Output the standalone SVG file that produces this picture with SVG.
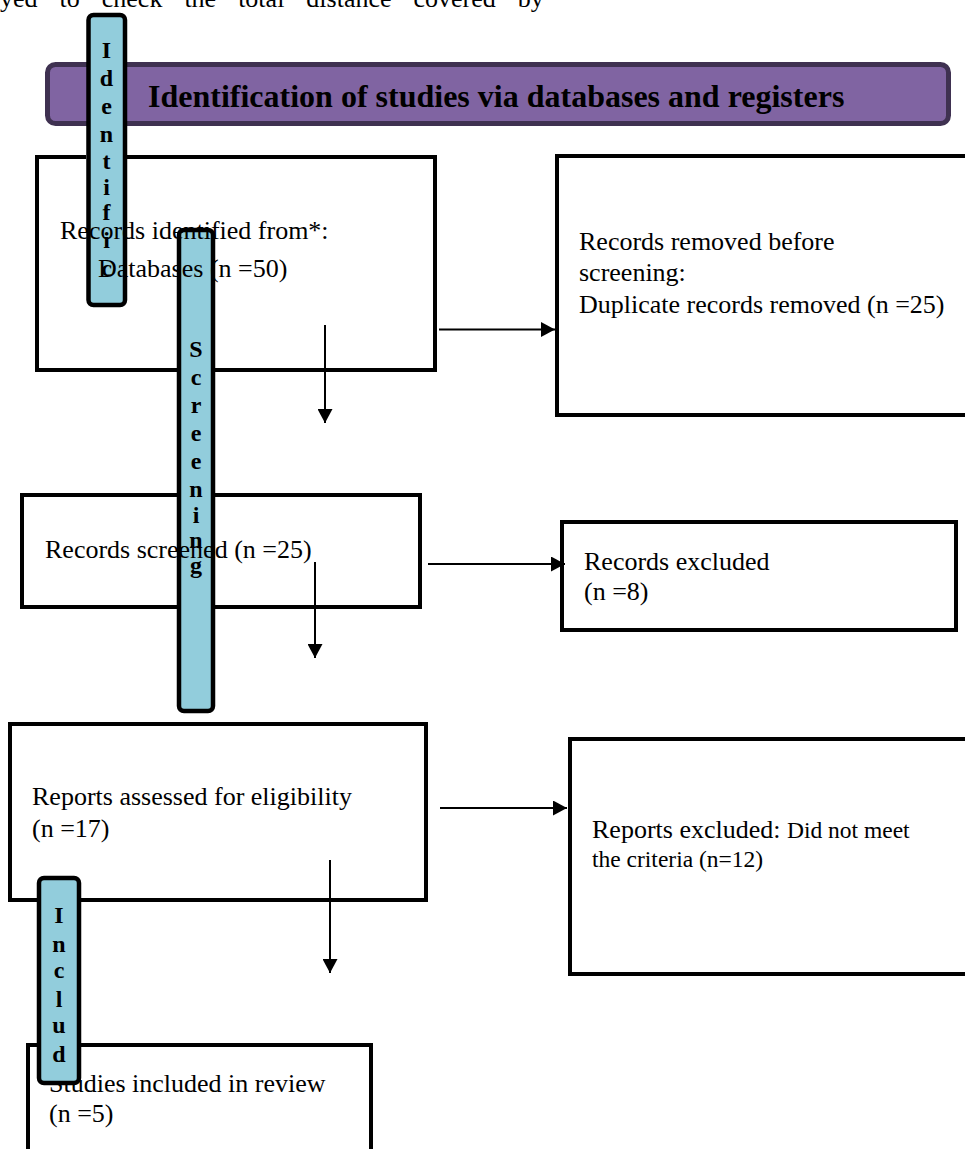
<svg xmlns="http://www.w3.org/2000/svg" width="965" height="1149" viewBox="0 0 965 1149">
<style>
.t{font-family:"Liberation Serif","Times New Roman",serif;font-size:26px;fill:#000}
.s{font-family:"Liberation Serif","Times New Roman",serif;font-size:23.5px;fill:#000}
.bl{font-family:"Liberation Serif","Times New Roman",serif;font-size:24px;font-weight:bold;fill:#000;text-anchor:middle}
.box{fill:none;stroke:#000;stroke-width:4;stroke-linejoin:miter}
.bar{fill:#92CDDC;stroke:#000;stroke-width:4.5}
.conn{stroke:#000;stroke-width:2;fill:none}
</style>
<defs>
<marker id="ah" markerUnits="userSpaceOnUse" markerWidth="14" markerHeight="15" refX="14" refY="7.5" orient="auto">
<path d="M0,0 L14,7.5 L0,15 Z" fill="#000"/>
</marker>
</defs>
<rect x="0" y="0" width="965" height="1149" fill="#fff"/>
<text class="t" x="0" y="7" word-spacing="15.5">yed to check the total distance covered by</text>

<g id="header">
<rect x="47.5" y="64.5" width="901" height="59" rx="8" fill="#8064A2" stroke="#3F3151" stroke-width="5"/>
<text x="148" y="107" font-family="'Liberation Serif','Times New Roman',serif" font-size="32" font-weight="bold" fill="#000">Identification of studies via databases and registers</text>
</g>

<g id="bar-identification">
<rect class="bar" x="88.5" y="15" width="36.5" height="290" rx="5"/>
<text class="bl" x="106.5" y="58">I</text>
<text class="bl" x="106.5" y="86">d</text>
<text class="bl" x="106.5" y="114">e</text>
<text class="bl" x="106.5" y="142">n</text>
<text class="bl" x="106.5" y="169">t</text>
<text class="bl" x="106.5" y="195">i</text>
<text class="bl" x="106.5" y="220">f</text>
<text class="bl" x="106.5" y="248">i</text>
<text class="bl" x="106.5" y="276">c</text>
</g>

<g id="bar-screening">
<rect class="bar" x="179" y="230" width="34" height="481" rx="5"/>
<text class="bl" x="196" y="357">S</text>
<text class="bl" x="196" y="385">c</text>
<text class="bl" x="196" y="413">r</text>
<text class="bl" x="196" y="441">e</text>
<text class="bl" x="196" y="469">e</text>
<text class="bl" x="196" y="497">n</text>
<text class="bl" x="196" y="523">i</text>
<text class="bl" x="196" y="548">n</text>
<text class="bl" x="196" y="573">g</text>
</g>

<g id="records-identified">
<path class="box" d="M86,157 H37 V370 H177 M215,370 H435 V157 H127"/>
<text class="t" x="60" y="239">Records identified from*:</text>
<text class="t" x="98" y="277">Databases (n =50)</text>
</g>

<g id="records-removed">
<rect class="box" x="557" y="156" width="420" height="259"/>
<text class="t" x="579" y="250">Records removed before</text>
<text class="t" x="579" y="281">screening:</text>
<text class="t" x="579" y="313">Duplicate records removed (n =25)</text>
</g>

<g id="records-screened">
<path class="box" d="M177,495 H22 V607 H177 M215,607 H420 V495 H215"/>
<text class="t" x="45" y="558">Records screened (n =25)</text>
</g>

<g id="records-excluded">
<rect class="box" x="562" y="522" width="394" height="108"/>
<text class="t" x="584" y="570">Records excluded</text>
<text class="t" x="584" y="600">(n =8)</text>
</g>

<g id="reports-assessed">
<rect class="box" x="10" y="724" width="416" height="176"/>
<text class="t" x="32" y="805">Reports assessed for eligibility</text>
<text class="t" x="32" y="837">(n =17)</text>
</g>

<g id="reports-excluded">
<rect class="box" x="570" y="739" width="410" height="235"/>
<text class="t" x="592" y="838">Reports excluded: <tspan class="s">Did not meet</tspan></text>
<text class="s" x="592" y="867">the criteria (n=12)</text>
</g>

<g id="studies-included">
<rect class="box" x="28" y="1045" width="343" height="130"/>
<text class="t" x="49" y="1092">Studies included in review</text>
<text class="t" x="49" y="1122">(n =5)</text>
</g>

<g id="bar-included">
<rect class="bar" x="39" y="878" width="40" height="205" rx="5"/>
<text class="bl" x="59" y="923">I</text>
<text class="bl" x="59" y="952">n</text>
<text class="bl" x="59" y="978">c</text>
<text class="bl" x="59" y="1007">l</text>
<text class="bl" x="59" y="1033">u</text>
<text class="bl" x="59" y="1062">d</text>
</g>

<g id="connectors">
<line class="conn" x1="325" y1="325" x2="325" y2="423" marker-end="url(#ah)"/>
<line class="conn" x1="439" y1="329.5" x2="555" y2="329.5" marker-end="url(#ah)"/>
<line class="conn" x1="315" y1="562" x2="315" y2="658" marker-end="url(#ah)"/>
<line class="conn" x1="428" y1="564" x2="565" y2="564" marker-end="url(#ah)"/>
<line class="conn" x1="330" y1="860" x2="330" y2="973" marker-end="url(#ah)"/>
<line class="conn" x1="440" y1="808" x2="567" y2="808" marker-end="url(#ah)"/>
</g>
</svg>
